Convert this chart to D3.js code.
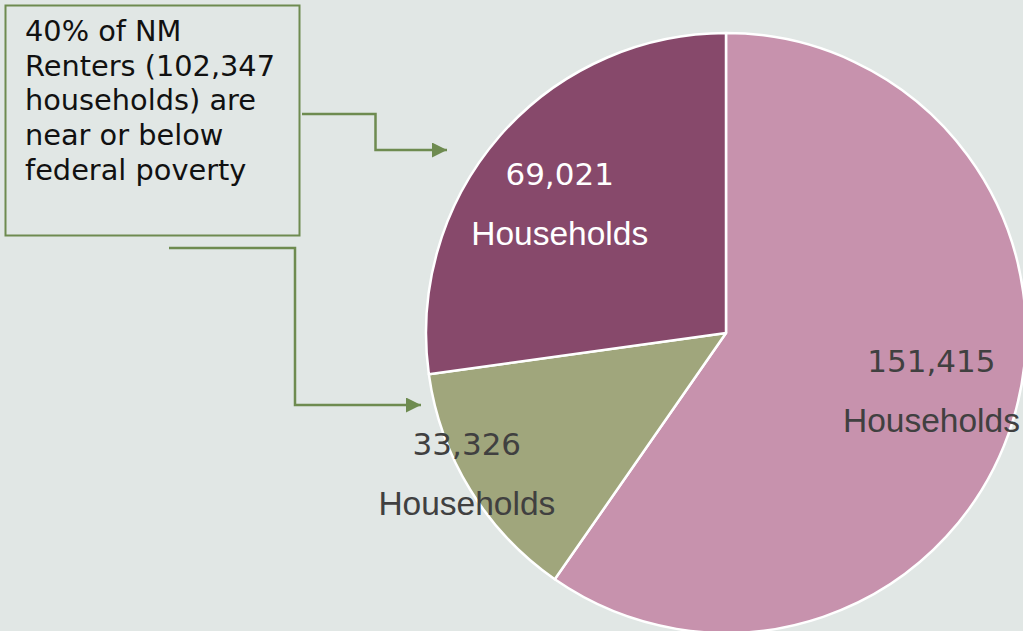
<!DOCTYPE html>
<html>
<head>
<meta charset="utf-8">
<script src="https://cdn.jsdelivr.net/npm/d3@7"></script>
<style>
html,body{margin:0;padding:0;background:#e1e7e5;}
svg{display:block;}
</style>
</head>
<body>
<svg id="chart" width="1023" height="631"></svg>
<script>
const categories = ["Above poverty", "Below poverty", "Near poverty"];
const values = [151415, 33326, 69021];
const numberLabels = ["151,415", "33,326", "69,021"];
const unitLabel = "Households";
const colors = ["#c792ad", "#a0a67c", "#87496b"];
const labelColors = ["#404040", "#404040", "#ffffff"];
const labelRadiusFactor = [0.712, 0.985, 0.70];
const labelAngleFrac = [0.493, 0.56, 0.465];
const calloutLines = ["40% of NM", "Renters (102,347", "households) are", "near or below", "federal poverty"];

const svg = d3.select("#chart");
const W = 1023, H = 631;
svg.append("rect").attr("width", W).attr("height", H).attr("fill", "#e1e7e5");

const cx = 726, cy = 333, R = 300;
const g = svg.append("g").attr("transform", `translate(${cx},${cy})`);

const pie = d3.pie().sort(null).value(d => d)(values);
const arc = d3.arc().innerRadius(0).outerRadius(R);

g.selectAll("path.slice").data(pie).join("path")
  .attr("class", "slice")
  .attr("d", arc)
  .attr("fill", (d, i) => colors[i])
  .attr("stroke", "#ffffff")
  .attr("stroke-width", 2.5)
  .attr("stroke-linejoin", "round");

pie.forEach((d, i) => {
  const r = R * labelRadiusFactor[i];
  const a = d.startAngle + labelAngleFrac[i] * (d.endAngle - d.startAngle);
  const lx = Math.sin(a) * r, ly = -Math.cos(a) * r;
  g.append("text")
    .attr("x", lx).attr("y", ly - 20)
    .attr("text-anchor", "middle")
    .attr("font-family", "'DejaVu Sans', Verdana, sans-serif")
    .attr("font-size", 31)
    .attr("fill", labelColors[i])
    .text(numberLabels[i]);
  g.append("text")
    .attr("x", lx).attr("y", ly + 40)
    .attr("text-anchor", "middle")
    .attr("font-family", "'Liberation Sans', Arial, sans-serif")
    .attr("font-size", 33.5)
    .attr("fill", labelColors[i])
    .text(unitLabel);
});

// Callout box
const green = "#6e8b50";
svg.append("rect")
  .attr("x", 5.5).attr("y", 5.5).attr("width", 294).attr("height", 230)
  .attr("fill", "none").attr("stroke", green).attr("stroke-width", 2);

const tb = svg.append("text")
  .attr("font-family", "'DejaVu Sans', Verdana, sans-serif")
  .attr("font-size", 28.8)
  .attr("fill", "#111111");
calloutLines.forEach((t, i) => {
  tb.append("tspan").attr("x", 25).attr("y", 41 + i * 34.7).text(t);
});

// Arrows
const defs = svg.append("defs");
defs.append("marker")
  .attr("id", "arrow")
  .attr("viewBox", "0 0 10 10")
  .attr("refX", 10).attr("refY", 5)
  .attr("markerUnits", "userSpaceOnUse")
  .attr("markerWidth", 16).attr("markerHeight", 15)
  .attr("orient", "auto")
  .append("path").attr("d", "M0,0 L10,5 L0,10 Z").attr("fill", green);

const line = d3.line();
svg.append("path")
  .attr("d", line([[302, 114], [375.5, 114], [375.5, 150], [447, 150]]))
  .attr("fill", "none").attr("stroke", green).attr("stroke-width", 2.5)
  .attr("marker-end", "url(#arrow)");
svg.append("path")
  .attr("d", line([[169, 248], [295, 248], [295, 405], [421, 405]]))
  .attr("fill", "none").attr("stroke", green).attr("stroke-width", 2.5)
  .attr("marker-end", "url(#arrow)");
</script>
</body>
</html>
